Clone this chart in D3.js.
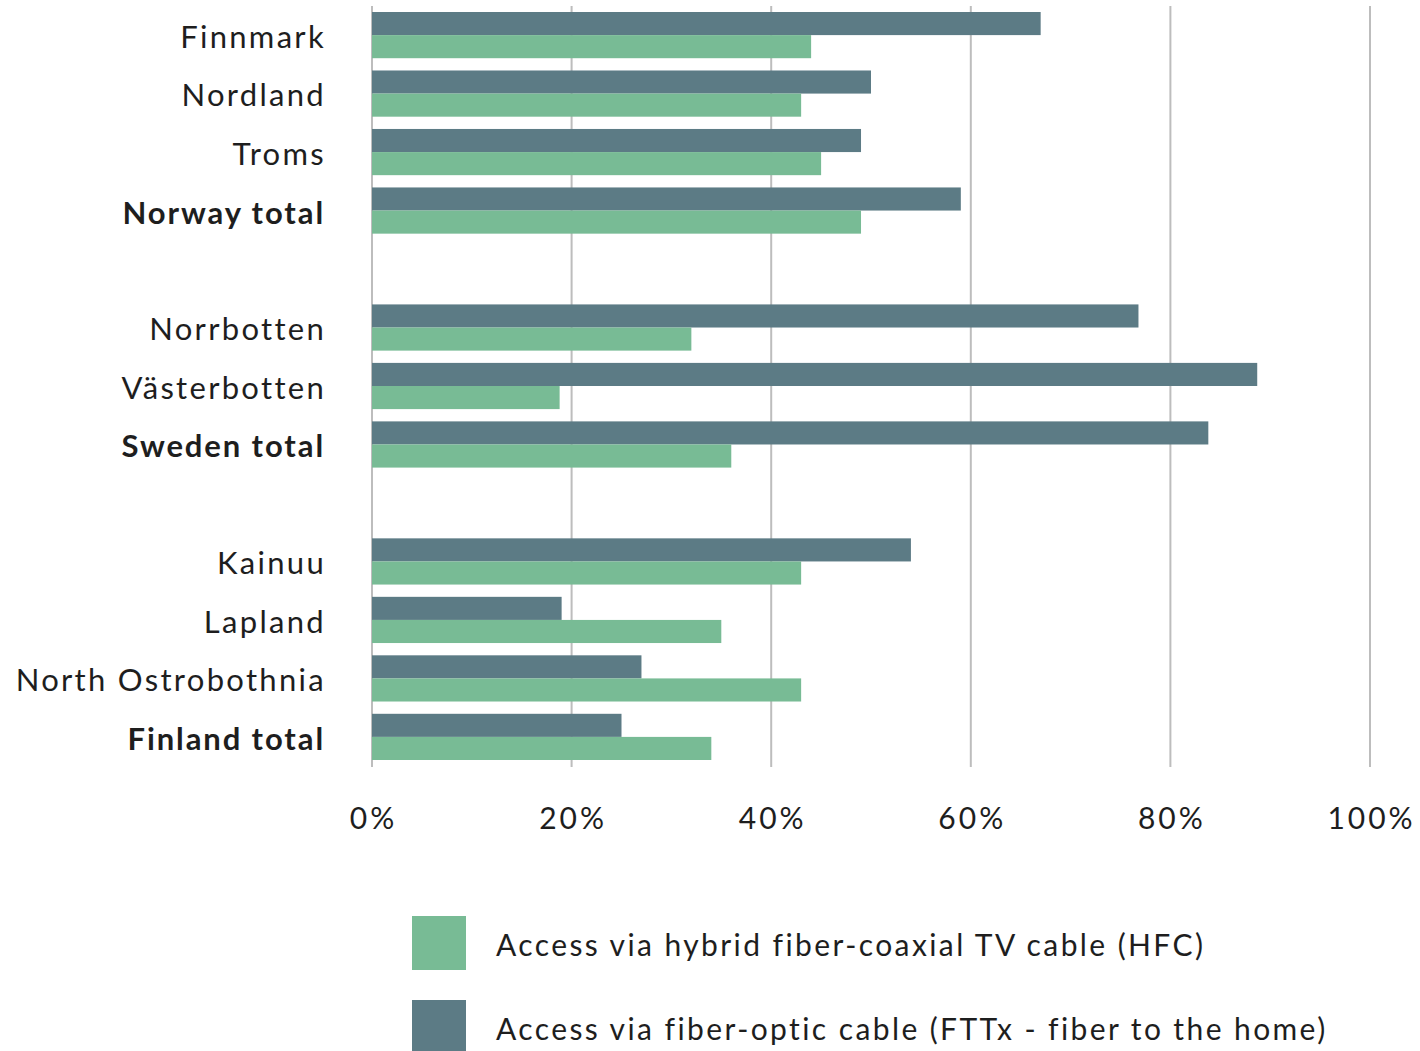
<!DOCTYPE html>
<html>
<head>
<meta charset="utf-8">
<script src="https://cdn.jsdelivr.net/npm/d3@7"></script>
<style>
  html, body { margin: 0; padding: 0; background: #fff; }
  svg { display: block; font-family: Lato, "Noto Sans", sans-serif; }
</style>
</head>
<body>
<svg id="chart" width="1420" height="1051"></svg>
<script>
// 데이터
const regions = ["Finnmark", "Nordland", "Troms", "Norway total", "_gap1",
                 "Norrbotten", "Västerbotten", "Sweden total", "_gap2",
                 "Kainuu", "Lapland", "North Ostrobothnia", "Finland total"];
const totals = ["Norway total", "Sweden total", "Finland total"];
const fttxValues = [67, 50, 49, 59, null, 76.8, 88.7, 83.8, null, 54, 19, 27, 25];
const hfcValues  = [44, 43, 45, 49, null, 32, 18.8, 36, null, 43, 35, 43, 34];
const xTicks = [0, 20, 40, 60, 80, 100];
const seriesKeys = ["fttx", "hfc"];
const legendLabels = ["Access via hybrid fiber-coaxial TV cable (HFC)",
                      "Access via fiber-optic cable (FTTx - fiber to the home)"];
const colors = { fttx: "#5c7b85", hfc: "#78bb95" };

const svg = d3.select("#chart");
const margin = { left: 372, right: 50, top: 12 };
const plotW = 1370 - margin.left;

const rows = regions.map((r, i) => ({ region: r, fttx: fttxValues[i], hfc: hfcValues[i] }))

// 스케일
const x = d3.scaleLinear().domain([0, 100]).range([margin.left, margin.left + plotW]);
const y = d3.scaleBand().domain(regions).range([12, 760]).paddingInner(0.21).paddingOuter(0);
const ySub = d3.scaleBand().domain(seriesKeys).range([0, y.bandwidth()]);

// 그리드
svg.append("g")
    .selectAll("line")
    .data(xTicks)
    .join("line")
    .attr("x1", d => x(d)).attr("x2", d => x(d))
    .attr("y1", 6).attr("y2", 767)
    .attr("stroke", "#bdbdbd")
    .attr("stroke-width", 2);

// 막대
const groups = svg.append("g")
    .selectAll("g")
    .data(rows.filter(d => d.fttx != null))
    .join("g")
    .attr("transform", d => `translate(0,${y(d.region)})`);

groups.selectAll("rect")
    .data(d => seriesKeys.map(k => ({ key: k, value: d[k] })))
    .join("rect")
    .attr("x", x(0))
    .attr("y", d => ySub(d.key))
    .attr("width", d => x(d.value) - x(0))
    .attr("height", ySub.bandwidth())
    .attr("fill", d => colors[d.key]);

// 카테고리 레이블
svg.append("g")
    .selectAll("text")
    .data(rows.filter(d => d.fttx != null))
    .join("text")
    .attr("x", d => totals.includes(d.region) ? 325 : 326)
    .attr("y", d => y(d.region) + y.bandwidth() / 2 + 5)
    .attr("text-anchor", "end")
    .attr("dominant-baseline", "middle")
    .style("font-size", "31px")
    .style("letter-spacing", d => totals.includes(d.region) ? "1.9px" : "2.3px")
    .style("font-weight", d => totals.includes(d.region) ? "bold" : "normal")
    .attr("fill", "#1e1e1e")
    .text(d => d.region);

// X축 레이블
svg.append("g")
    .selectAll("text")
    .data(xTicks)
    .join("text")
    .attr("x", d => x(d) + 1.5)
    .attr("y", 821)
    .attr("text-anchor", "middle")
    .attr("dominant-baseline", "middle")
    .style("font-size", "30px")
    .style("letter-spacing", "3px")
    .attr("fill", "#1e1e1e")
    .text(d => d + "%");

// 범례
const legendKeys = ["hfc", "fttx"];
const legend = svg.append("g")
    .selectAll("g")
    .data(legendKeys)
    .join("g")
    .attr("transform", (d, i) => `translate(412,${916 + i * 84})`);

legend.append("rect")
    .attr("width", 54).attr("height", 54)
    .attr("fill", d => colors[d]);

legend.append("text")
    .attr("x", 84)
    .attr("y", 32)
    .attr("dominant-baseline", "middle")
    .style("font-size", "30px")
    .style("letter-spacing", "2.4px")
    .attr("fill", "#1e1e1e")
    .text((d, i) => legendLabels[i]);
</script>
</body>
</html>
